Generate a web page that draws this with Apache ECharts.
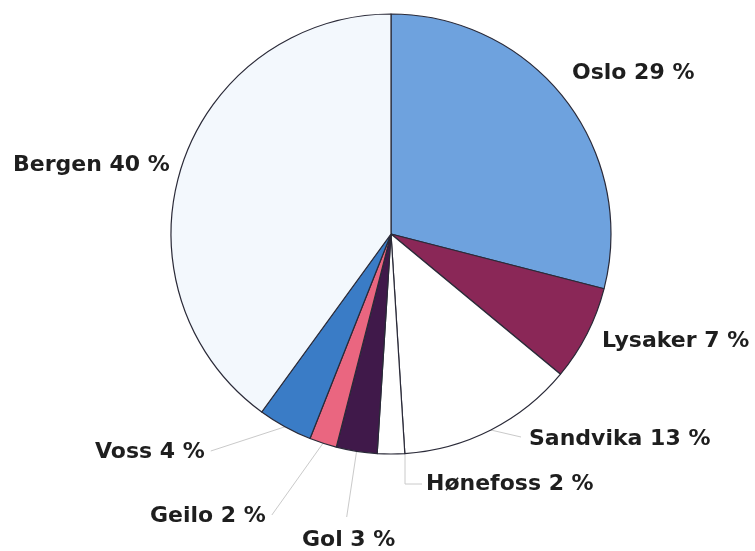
<!DOCTYPE html>
<html>
<head>
<meta charset="utf-8">
<script src="https://cdn.jsdelivr.net/npm/echarts@6/dist/echarts.min.js"></script>
<style>
  html, body { margin: 0; padding: 0; background: #ffffff; }
  #chart { width: 755px; height: 551px; }
</style>
</head>
<body>
<div id="chart"></div>
<script>
// Share of employees by office location (%)
const cities = ['Oslo', 'Lysaker', 'Sandvika', 'Hønefoss', 'Gol', 'Geilo', 'Voss', 'Bergen'];
const shares = [29, 7, 13, 2, 3, 2, 4, 40];
const sliceColors = ['#6ea2de', '#8a2757', '#ffffff', '#ffffff', '#40194a', '#ea6680', '#3a7cc6', '#f3f8fd'];

// Where each label sits: left edge x, vertical middle y, and how its leader line runs
const labelPlacement = {
  'Oslo':     { x: 572, y: 73,  guide: 'none' },
  'Lysaker':  { x: 602, y: 341, guide: 'none' },
  'Sandvika': { x: 529, y: 439, guide: 'toLeft' },
  'Hønefoss': { x: 426, y: 484, guide: 'elbow' },
  'Gol':      { x: 302, y: 540, guide: 'toTop' },
  'Geilo':    { x: 150, y: 516, guide: 'toRight' },
  'Voss':     { x: 95,  y: 452, guide: 'toRight' },
  'Bergen':   { x: 13,  y: 165, guide: 'none' }
};

const pieData = cities.map((name, i) => ({
  name: name,
  value: shares[i],
  itemStyle: { color: sliceColors[i] },
  labelLine: { show: labelPlacement[name].guide !== 'none' }
}));

const chart = echarts.init(document.getElementById('chart'), null, { renderer: 'canvas' });

chart.setOption({
  animation: false,
  backgroundColor: '#ffffff',
  series: [{
    type: 'pie',
    center: [391, 234],
    radius: 220,
    startAngle: 90,
    clockwise: true,
    avoidLabelOverlap: false,
    itemStyle: { borderColor: '#2a2a38', borderWidth: 1.2 },
    emphasis: { disabled: true },
    label: {
      show: true,
      position: 'outside',
      formatter: '{b} {c} %',
      fontFamily: 'DejaVu Sans',
      fontWeight: 'bold',
      fontSize: 22,
      color: '#1e1e1e'
    },
    labelLine: {
      show: true,
      length: 10,
      length2: 10,
      lineStyle: { color: '#cacaca', width: 1 }
    },
    labelLayout: function (params) {
      const name = cities[params.dataIndex];
      const p = labelPlacement[name];
      const w = params.labelRect.width;
      const out = { x: p.x, y: p.y, align: 'left', verticalAlign: 'middle' };
      const pts = params.labelLinePoints;
      if (pts && pts.length && p.guide !== 'none') {
        const edge = pts[0];
        if (p.guide === 'toRight') {
          out.labelLinePoints = [edge, [p.x + w + 6, p.y - 1]];
        } else if (p.guide === 'toLeft') {
          out.labelLinePoints = [edge, [p.x - 8, p.y - 2]];
        } else if (p.guide === 'toTop') {
          out.labelLinePoints = [edge, [p.x + w / 2 - 2, p.y - 23]];
        } else if (p.guide === 'elbow') {
          out.labelLinePoints = [[edge[0] + 14, edge[1]], [edge[0] + 14, p.y], [p.x - 4, p.y]];
        }
      }
      return out;
    },
    data: pieData
  }]
});
</script>
</body>
</html>
